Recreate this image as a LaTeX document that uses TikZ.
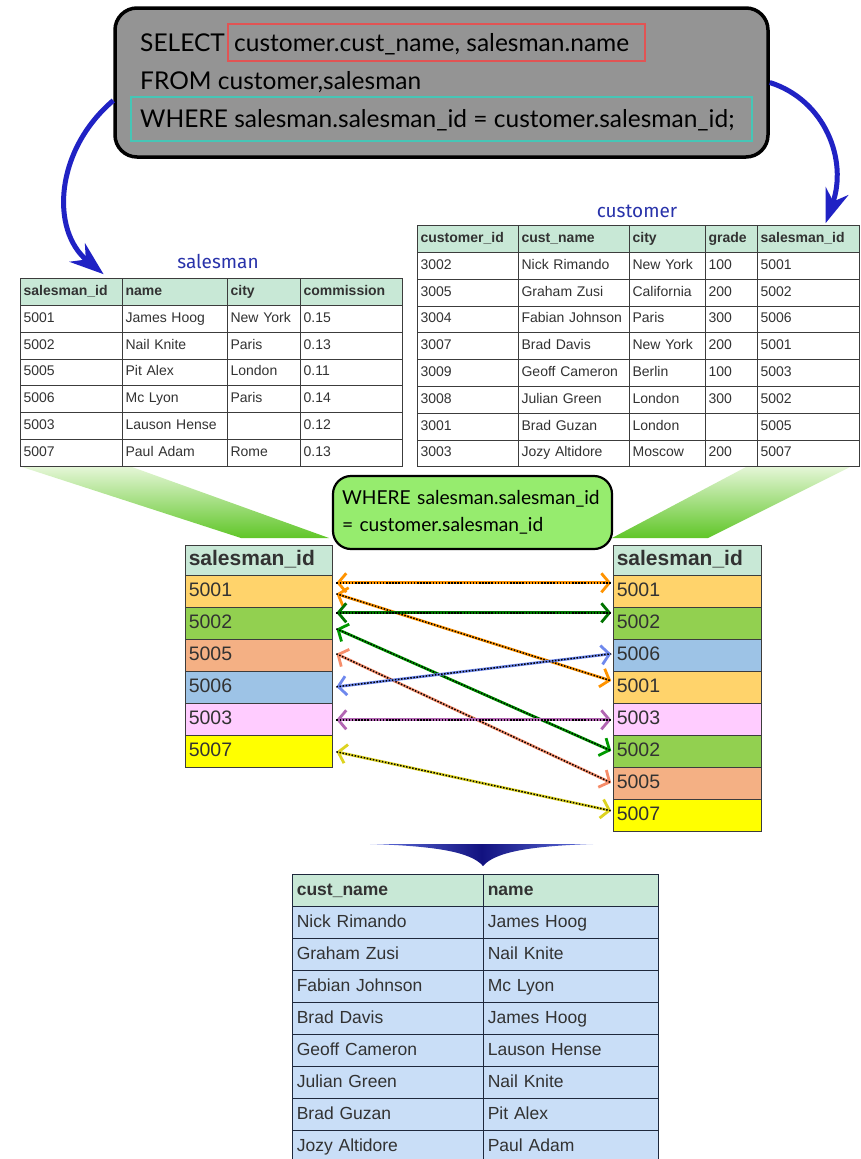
\documentclass[tikz,border=0pt]{standalone}
\usepackage{fontspec}
\setmainfont{Liberation Sans}
\newfontfamily\sqlfamily{Lato}
\newfontfamily\titlefamily{Fira Sans}
\usetikzlibrary{matrix,arrows.meta}

\definecolor{hdr}{RGB}{200,232,214}
\definecolor{tblline}{RGB}{60,60,60}
\definecolor{tabtext}{RGB}{50,50,50}
\definecolor{sqlgray}{RGB}{148,148,148}
\definecolor{selred}{RGB}{226,84,84}
\definecolor{whteal}{RGB}{70,198,182}
\definecolor{condgreen}{RGB}{150,236,110}
\definecolor{titleblue}{RGB}{40,50,170}
\definecolor{swoosh}{RGB}{32,34,196}
\definecolor{wedgetop}{RGB}{228,246,214}
\definecolor{wedgebot}{RGB}{96,198,40}
\definecolor{chevmid}{RGB}{18,18,128}
\definecolor{chevside}{RGB}{96,112,222}
\definecolor{c5001}{RGB}{255,211,107}
\definecolor{c5002}{RGB}{146,208,80}
\definecolor{c5005}{RGB}{244,176,132}
\definecolor{c5006}{RGB}{157,195,230}
\definecolor{c5003}{RGB}{255,204,255}
\definecolor{c5007}{RGB}{255,255,0}
\definecolor{resblue}{RGB}{201,222,247}
\definecolor{resline}{RGB}{30,40,60}

\newcommand\sqlfont{\sqlfamily\fontsize{24.5}{28}\selectfont}
\newcommand\condfont{\sqlfamily\fontsize{19.2}{27}\selectfont}
\newcommand\titlefont{\titlefamily\fontsize{19}{22}\selectfont}
\newcommand\tabfont{\fontsize{14}{16}\selectfont}
\newcommand\idfont{\fontsize{19.5}{22}\selectfont}
\newcommand\resfont{\fontsize{17.5}{20}\selectfont}

\begin{document}
\begin{tikzpicture}[x=1pt,y=-1pt,
	sqlbox/.style={draw=black, line width=3.5pt, fill=sqlgray, rounded corners=22pt,
		minimum width=653pt, minimum height=149pt},
	sqltext/.style={anchor=base west, inner sep=0pt, font=\sqlfont},
	tbltitle/.style={font=\titlefont, text=titleblue, inner sep=0pt},
	tbl/.style={matrix of nodes, nodes in empty cells, anchor=north west, inner sep=0pt,
		column sep=-0.8pt, row sep=-0.8pt,
		nodes={draw=tblline, line width=0.8pt, fill=white, anchor=center, minimum height=26.8pt,
			inner xsep=3pt, inner ysep=0pt, text height=10pt, text depth=3pt, align=left,
			font=\tabfont, text=tabtext},
		row 1/.style={nodes={fill=hdr, font=\tabfont\bfseries}}},
	idcol/.style={matrix of nodes, anchor=north west, inner sep=0pt, row sep=-1.2pt,
		nodes={draw=tblline, line width=1.2pt, anchor=center, minimum height=32pt,
			inner xsep=3pt, inner ysep=0pt, text height=14pt, text depth=4pt, align=left,
			text width=#1, font=\idfont, text=tabtext},
		row 1/.style={nodes={fill=hdr, minimum height=30pt, font=\fontsize{21}{24}\selectfont\bfseries}}},
	restbl/.style={matrix of nodes, anchor=north west, inner sep=0pt,
		column sep=-1.2pt, row sep=-1.2pt,
		nodes={draw=resline, line width=1.2pt, fill=resblue, anchor=center, minimum height=32pt,
			inner xsep=4pt, inner ysep=0pt, text height=13pt, text depth=4pt, align=left,
			font=\resfont, text=tabtext},
		row 1/.style={nodes={fill=hdr, font=\resfont\bfseries}},
		column 1/.style={nodes={text width=183pt}},
		column 2/.style={nodes={text width=167pt}}},
	condbox/.style={draw=black, line width=2.2pt, fill=condgreen, rounded corners=18pt,
		minimum width=279pt, minimum height=73pt, inner xsep=9pt, align=left,
		text width=261pt, font=\condfont},
	bluecurve/.style={draw=swoosh, line width=5pt, -{Stealth[length=34pt,width=24pt,inset=11pt]}},
	jline/.style={draw=#1, line width=2.8pt,
		{Straight Barb[length=8pt,width=19pt]}-{Straight Barb[length=8pt,width=19pt]},
		postaction={draw=black, line width=1.5pt, dash pattern=on 1.5pt off 1.6pt, -}}]
\useasboundingbox (0,0) rectangle (860,1159);

\node[sqlbox] (sql) at (441.5,82.5) {};
\node[sqltext] (selkw) at (140,51) {SELECT};
\node[sqltext] (selcols) at (234,51) {customer.cust\_name, salesman.name};
\node[sqltext] (fromln) at (140,89) {FROM customer,salesman};
\node[sqltext] (whereln) at (140,127) {WHERE salesman.salesman\_id = customer.salesman\_id;};
\draw[selred, line width=2pt] (228,24) rectangle (645,61);
\draw[whteal, line width=2.5pt] (131,97) rectangle (752,141);

\node[tbltitle] (smtitle) at (218,261) {salesman};
\matrix[tbl, column 1/.style={nodes={text width=96pt}}, column 2/.style={nodes={text width=99pt}},
	column 3/.style={nodes={text width=67pt}}, column 4/.style={nodes={text width=96pt}}] (sm) at (20,278) {
	salesman\_id & name & city & commission \\
	5001 & James Hoog & New York & 0.15 \\
	5002 & Nail Knite & Paris & 0.13 \\
	5005 & Pit Alex & London & 0.11 \\
	5006 & Mc Lyon & Paris & 0.14 \\
	5003 & Lauson Hense & & 0.12 \\
	5007 & Paul Adam & Rome & 0.13 \\
};

\node[tbltitle] (cutitle) at (637,211) {customer};
\matrix[tbl, column 1/.style={nodes={text width=95pt}}, column 2/.style={nodes={text width=105pt}},
	column 3/.style={nodes={text width=70pt}}, column 4/.style={nodes={text width=46pt}},
	column 5/.style={nodes={text width=96pt}}] (cu) at (417,225) {
	customer\_id & cust\_name & city & grade & salesman\_id \\
	3002 & Nick Rimando & New York & 100 & 5001 \\
	3005 & Graham Zusi & California & 200 & 5002 \\
	3004 & Fabian Johnson & Paris & 300 & 5006 \\
	3007 & Brad Davis & New York & 200 & 5001 \\
	3009 & Geoff Cameron & Berlin & 100 & 5003 \\
	3008 & Julian Green & London & 300 & 5002 \\
	3001 & Brad Guzan & London & & 5005 \\
	3003 & Jozy Altidore & Moscow & 200 & 5007 \\
};

\draw[bluecurve] ([yshift=-18pt]sql.west) .. controls (55,150) and (50,230) .. ([xshift=32pt,yshift=4pt]sm-1-1.north);
\draw[bluecurve] (sql.east) .. controls (825,100) and (848,160) .. ([xshift=17pt,yshift=2pt]cu-1-5.north);

\shade[top color=wedgetop, bottom color=wedgebot] (22,467) -- (132,467) -- (329,538) -- (241,538) -- cycle;
\shade[top color=wedgetop, bottom color=wedgebot] (746,467) -- (850,467) -- (708,538) -- (612,538) -- cycle;

\matrix[idcol=141pt, row 2/.style={nodes={fill=c5001}}, row 3/.style={nodes={fill=c5002}},
	row 4/.style={nodes={fill=c5005}}, row 5/.style={nodes={fill=c5006}},
	row 6/.style={nodes={fill=c5003}}, row 7/.style={nodes={fill=c5007}}] (ls) at (185,545) {
	salesman\_id \\ 5001 \\ 5002 \\ 5005 \\ 5006 \\ 5003 \\ 5007 \\
};
\matrix[idcol=142pt, row 2/.style={nodes={fill=c5001}}, row 3/.style={nodes={fill=c5002}},
	row 4/.style={nodes={fill=c5006}}, row 5/.style={nodes={fill=c5001}},
	row 6/.style={nodes={fill=c5003}}, row 7/.style={nodes={fill=c5002}},
	row 8/.style={nodes={fill=c5005}}, row 9/.style={nodes={fill=c5007}}] (rs) at (613,545) {
	salesman\_id \\ 5001 \\ 5002 \\ 5006 \\ 5001 \\ 5003 \\ 5002 \\ 5005 \\ 5007 \\
};

\node[condbox] (cond) at (472.5,512.5) {WHERE salesman.salesman\_id\\= customer.salesman\_id};

\foreach \l/\ly/\r/\ry/\c in {2/9/2/9/orange!85!yellow, 2/-2/5/7/orange!85!yellow,
	3/11/3/11/green!45!black, 3/-5/7/1/green!60!black, 4/2/8/1/c5005!80!red,
	5/1/4/2/c5006!70!blue, 6/0/6/0/violet!60, 7/0/9/5/yellow!85!black}
	\draw[jline=\c] ([xshift=3pt,yshift=\ly pt]ls-\l-1.east) -- ([xshift=-2pt,yshift=\ry pt]rs-\r-1.west);

\shade[left color=chevside, right color=chevside, middle color=chevmid]
	(370,844) -- (593,844) .. controls (530,846) and (495,852) .. (483,866)
	.. controls (471,852) and (436,846) .. (370,844) -- cycle;

\matrix[restbl] (res) at (292,874) {
	cust\_name & name \\
	Nick Rimando & James Hoog \\
	Graham Zusi & Nail Knite \\
	Fabian Johnson & Mc Lyon \\
	Brad Davis & James Hoog \\
	Geoff Cameron & Lauson Hense \\
	Julian Green & Nail Knite \\
	Brad Guzan & Pit Alex \\
	Jozy Altidore & Paul Adam \\
};
\end{tikzpicture}
\end{document}
